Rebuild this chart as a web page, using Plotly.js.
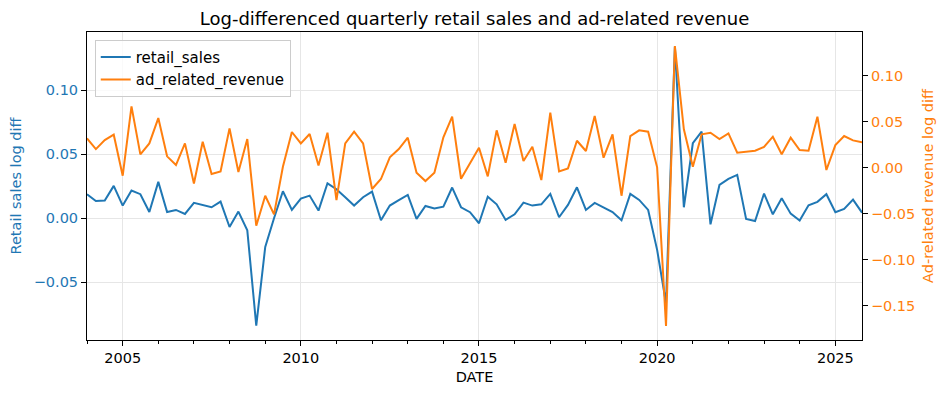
<!DOCTYPE html>
<html>
<head>
<meta charset="utf-8">
<script src="https://cdn.plot.ly/plotly-3.0.1.min.js"></script>
<style>html,body{margin:0;padding:0;background:#fff;}#chart{width:949px;height:395px;}</style>
</head>
<body>
<div id="chart"></div>
<script>
// Quarterly dates, 2004Q1 .. 2025Q4
const dates = [
 "2004-01-01","2004-04-01","2004-07-01","2004-10-01",
 "2005-01-01","2005-04-01","2005-07-01","2005-10-01",
 "2006-01-01","2006-04-01","2006-07-01","2006-10-01",
 "2007-01-01","2007-04-01","2007-07-01","2007-10-01",
 "2008-01-01","2008-04-01","2008-07-01","2008-10-01",
 "2009-01-01","2009-04-01","2009-07-01","2009-10-01",
 "2010-01-01","2010-04-01","2010-07-01","2010-10-01",
 "2011-01-01","2011-04-01","2011-07-01","2011-10-01",
 "2012-01-01","2012-04-01","2012-07-01","2012-10-01",
 "2013-01-01","2013-04-01","2013-07-01","2013-10-01",
 "2014-01-01","2014-04-01","2014-07-01","2014-10-01",
 "2015-01-01","2015-04-01","2015-07-01","2015-10-01",
 "2016-01-01","2016-04-01","2016-07-01","2016-10-01",
 "2017-01-01","2017-04-01","2017-07-01","2017-10-01",
 "2018-01-01","2018-04-01","2018-07-01","2018-10-01",
 "2019-01-01","2019-04-01","2019-07-01","2019-10-01",
 "2020-01-01","2020-04-01","2020-07-01","2020-10-01",
 "2021-01-01","2021-04-01","2021-07-01","2021-10-01",
 "2022-01-01","2022-04-01","2022-07-01","2022-10-01",
 "2023-01-01","2023-04-01","2023-07-01","2023-10-01",
 "2024-01-01","2024-04-01","2024-07-01","2024-10-01",
 "2025-01-01","2025-04-01","2025-07-01","2025-10-01"
];

const retail_sales = [
 0.0188, 0.0135, 0.0138, 0.0253,
 0.0099, 0.0216, 0.0188, 0.0049,
 0.0284, 0.0049, 0.0065, 0.0034,
 0.0120, 0.0102, 0.0086, 0.0130,
 -0.0068, 0.0052, -0.0094, -0.0839,
 -0.0224, 0.0000, 0.0211, 0.0065,
 0.0154, 0.0177, 0.0060, 0.0273,
 0.0227, 0.0164, 0.0099, 0.0164,
 0.0208, -0.0016, 0.0099, 0.0141,
 0.0182, -0.0005, 0.0096, 0.0076,
 0.0091, 0.0240, 0.0086, 0.0047,
 -0.0039, 0.0169, 0.0109, -0.0013,
 0.0031, 0.0122, 0.0099, 0.0109,
 0.0190, 0.0008, 0.0104, 0.0242,
 0.0065, 0.0120, 0.0086, 0.0049,
 -0.0016, 0.0190, 0.0143, 0.0065,
 -0.0247, -0.0664, 0.1340, 0.0086,
 0.0586, 0.0677, -0.0047, 0.0260,
 0.0307, 0.0339, -0.0005, -0.0021,
 0.0193, 0.0031, 0.0156, 0.0036,
 -0.0018, 0.0102, 0.0128, 0.0188,
 0.0047, 0.0073, 0.0146, 0.0044
];

const ad_related_revenue = [
 0.0320, 0.0203, 0.0301, 0.0360,
 -0.0087, 0.0668, 0.0145, 0.0265,
 0.0541, 0.0124, 0.0029, 0.0265,
 -0.0171, 0.0283, -0.0069, -0.0040,
 0.0429, -0.0047, 0.0312, -0.0632,
 -0.0305, -0.0508, 0.0011, 0.0389,
 0.0265, 0.0367, 0.0025, 0.0381,
 -0.0352, 0.0265, 0.0392, 0.0265,
 -0.0232, -0.0123, 0.0113, 0.0203,
 0.0327, -0.0054, -0.0145, -0.0054,
 0.0331, 0.0556, -0.0120, 0.0047,
 0.0218, -0.0094, 0.0407, 0.0055,
 0.0476, 0.0073, 0.0229, -0.0134,
 0.0599, -0.0040, -0.0007, 0.0294,
 0.0182, 0.0563, 0.0109, 0.0363,
 -0.0305, 0.0345, 0.0407, 0.0393,
 0.0004, -0.1723, 0.1325, 0.0418,
 0.0011, 0.0363, 0.0381, 0.0312,
 0.0374, 0.0163, 0.0178, 0.0186,
 0.0226, 0.0338, 0.0146, 0.0327,
 0.0193, 0.0186, 0.0556, -0.0025,
 0.0247, 0.0345, 0.0298, 0.0276
];

const BLUE = "#1f77b4", ORANGE = "#ff7f0e";
const FONT = "DejaVu Sans, sans-serif";
const FS = 14.5;

const traces = [
  {x: dates, y: retail_sales, name: "retail_sales", type: "scatter", mode: "lines",
   line: {color: BLUE, width: 2}, yaxis: "y"},
  {x: dates, y: ad_related_revenue, name: "ad_related_revenue", type: "scatter", mode: "lines",
   line: {color: ORANGE, width: 2}, yaxis: "y2"}
];

const layout = {
  width: 949, height: 395,
  margin: {l: 87, r: 87, t: 32, b: 55, pad: 0},
  paper_bgcolor: "#fff", plot_bgcolor: "#fff",
  font: {family: FONT, size: FS, color: "#000"},
  title: {text: "Log-differenced quarterly retail sales and ad-related revenue",
          font: {family: FONT, size: 18, color: "#000"}, x: 0.5, xanchor: "center",
          y: 0.953, yanchor: "middle"},
  showlegend: true,
  legend: {x: 0.01, y: 0.975, xanchor: "left", yanchor: "top",
           bgcolor: "rgba(255,255,255,0.8)", bordercolor: "#cccccc", borderwidth: 1,
           font: {family: FONT, size: 15, color: "#000"}, itemwidth: 30, tracegroupgap: 0},
  xaxis: {
    type: "date", range: ["2004-01-01", "2025-10-01"],
    tick0: "2005-01-01", dtick: "M60", tickformat: "%Y",
    ticks: "outside", ticklen: 5, tickwidth: 1, tickcolor: "#000",
    showline: true, linecolor: "#000", linewidth: 1, mirror: true,
    showgrid: true, gridcolor: "#e6e6e6", gridwidth: 1,
    zeroline: false,
    minor: {dtick: "M12", tick0: "2004-01-01", ticks: "outside", ticklen: 3, tickcolor: "#000", showgrid: false},
    tickfont: {family: FONT, size: FS, color: "#000"},
    title: {text: "DATE", font: {family: FONT, size: FS, color: "#000"}, standoff: 6}
  },
  yaxis: {
    range: [-0.0951, 0.1455], tick0: 0, dtick: 0.05, tickformat: ".2f",
    ticks: "outside", ticklen: 5, tickwidth: 1, tickcolor: "#000",
    showline: true, linecolor: "#000", linewidth: 1,
    showgrid: true, gridcolor: "#e6e6e6", gridwidth: 1, zeroline: false,
    tickfont: {family: FONT, size: FS, color: BLUE},
    title: {text: "Retail sales log diff", font: {family: FONT, size: FS, color: BLUE}, standoff: 8}
  },
  yaxis2: {
    overlaying: "y", side: "right",
    range: [-0.1876, 0.1478], tick0: 0, dtick: 0.05, tickformat: ".2f",
    ticks: "outside", ticklen: 5, tickwidth: 1, tickcolor: "#000",
    showline: true, linecolor: "#000", linewidth: 1,
    showgrid: false, zeroline: false,
    tickfont: {family: FONT, size: FS, color: ORANGE},
    title: {text: "Ad-related revenue log diff", font: {family: FONT, size: FS, color: ORANGE}, standoff: 8}
  }
};

Plotly.newPlot("chart", traces, layout, {displayModeBar: false, staticPlot: true});
</script>
</body>
</html>
